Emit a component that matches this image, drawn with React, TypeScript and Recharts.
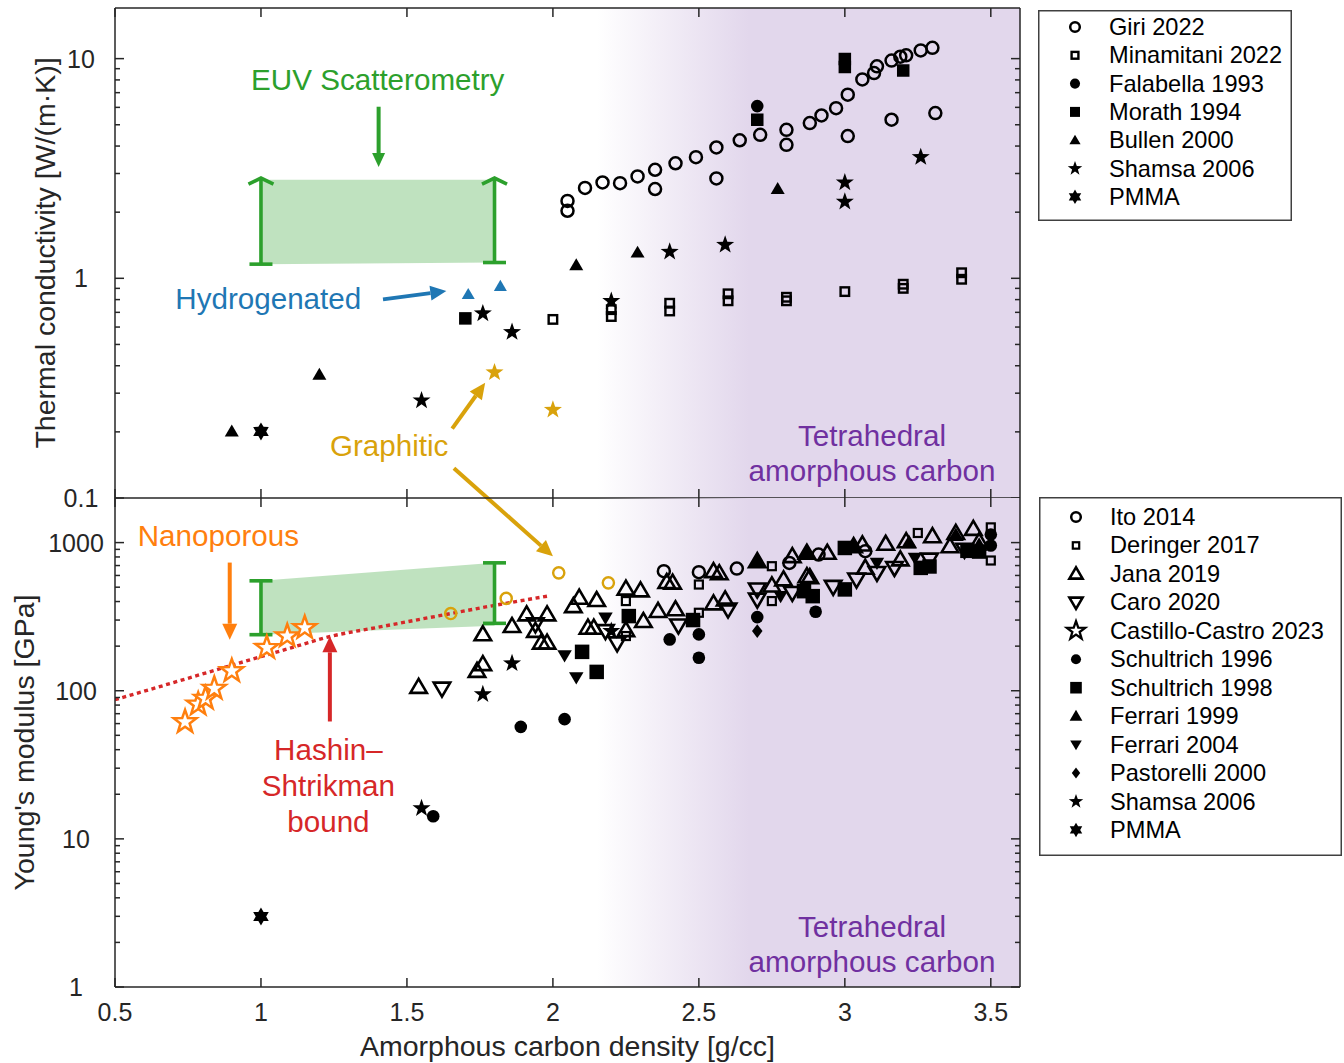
import React from 'react'
import {
  ComposedChart, Scatter, Line, Area, XAxis, YAxis,
  ReferenceArea, ReferenceLine, ReferenceDot, Legend,
} from 'recharts'

// ---------- thermal conductivity panel [W/(m·K)] vs density [g/cc] ----------
const giri2022 = [
  { x: 2.05, y: 2.25 }, { x: 2.05, y: 2.03 }, { x: 2.11, y: 2.58 }, { x: 2.17, y: 2.73 },
  { x: 2.23, y: 2.71 }, { x: 2.29, y: 2.91 }, { x: 2.35, y: 3.12 }, { x: 2.35, y: 2.55 },
  { x: 2.42, y: 3.34 }, { x: 2.49, y: 3.56 }, { x: 2.56, y: 3.94 }, { x: 2.56, y: 2.85 },
  { x: 2.64, y: 4.25 }, { x: 2.71, y: 4.5 }, { x: 2.8, y: 4.74 }, { x: 2.8, y: 4.05 },
  { x: 2.88, y: 5.09 }, { x: 2.92, y: 5.51 }, { x: 2.97, y: 5.95 }, { x: 3.01, y: 6.85 },
  { x: 3.01, y: 4.44 }, { x: 3.06, y: 8.04 }, { x: 3.1, y: 8.6 }, { x: 3.11, y: 9.22 },
  { x: 3.16, y: 9.8 }, { x: 3.19, y: 10.2 }, { x: 3.21, y: 10.35 }, { x: 3.26, y: 10.9 },
  { x: 3.3, y: 11.2 }, { x: 3.16, y: 5.27 }, { x: 3.31, y: 5.65 },
]
const minamitani2022 = [
  { x: 2.0, y: 0.65 }, { x: 2.2, y: 0.67 }, { x: 2.2, y: 0.72 }, { x: 2.4, y: 0.71 },
  { x: 2.4, y: 0.77 }, { x: 2.6, y: 0.79 }, { x: 2.6, y: 0.85 }, { x: 2.8, y: 0.79 },
  { x: 2.8, y: 0.82 }, { x: 3.0, y: 0.87 }, { x: 3.2, y: 0.9 }, { x: 3.2, y: 0.94 },
  { x: 3.4, y: 0.99 }, { x: 3.4, y: 1.06 },
]
const falabella1993 = [{ x: 2.7, y: 6.08 }]
const morath1994 = [
  { x: 1.7, y: 0.657 }, { x: 2.7, y: 5.27 }, { x: 3.0, y: 9.16 }, { x: 3.0, y: 9.96 }, { x: 3.2, y: 8.83 },
]
const bullen2000 = [
  { x: 0.9, y: 0.201 }, { x: 1.2, y: 0.364 }, { x: 2.08, y: 1.147 }, { x: 2.29, y: 1.31 }, { x: 2.77, y: 2.55 },
]
const hydrogenated = [{ x: 1.71, y: 0.845 }, { x: 1.82, y: 0.92 }]
const shamsaThermal = [
  { x: 1.55, y: 0.278 }, { x: 1.76, y: 0.692 }, { x: 1.86, y: 0.569 }, { x: 2.2, y: 0.788 },
  { x: 2.4, y: 1.32 }, { x: 2.59, y: 1.42 }, { x: 3.0, y: 2.73 }, { x: 3.0, y: 2.23 }, { x: 3.26, y: 3.56 },
]
const graphiticThermal = [{ x: 1.8, y: 0.373 }, { x: 2.0, y: 0.252 }]
const pmmaThermal = [{ x: 1.0, y: 0.201 }]
const euvThermal = [
  { x: 1.0, band: [1.16, 2.81] },
  { x: 1.8, band: [1.18, 2.81] },
]

// ---------- Young's modulus panel [GPa] ----------
const ito2014 = [
  { x: 2.38, y: 641 }, { x: 2.5, y: 631 }, { x: 2.63, y: 668 }, { x: 2.81, y: 729 },
  { x: 2.91, y: 830 }, { x: 3.07, y: 875 },
]
const graphiticModulus = [{ x: 1.65, y: 332 }, { x: 1.84, y: 420 }, { x: 2.02, y: 625 }, { x: 2.19, y: 535 }]
const deringer2017 = [
  { x: 2.25, y: 403 }, { x: 2.25, y: 234 }, { x: 2.5, y: 521 }, { x: 2.5, y: 336 }, { x: 2.75, y: 693 },
  { x: 2.75, y: 403 }, { x: 3.0, y: 944 }, { x: 3.25, y: 1161 }, { x: 3.5, y: 1267 }, { x: 3.5, y: 757 },
]
const jana2019 = [
  { x: 1.54, y: 106 }, { x: 1.74, y: 136 }, { x: 1.76, y: 151 }, { x: 1.76, y: 240 }, { x: 1.86, y: 273 },
  { x: 1.91, y: 327 }, { x: 1.98, y: 327 }, { x: 1.94, y: 253 }, { x: 1.96, y: 211 }, { x: 1.98, y: 211 },
  { x: 2.07, y: 372 }, { x: 2.09, y: 424 }, { x: 2.15, y: 409 }, { x: 2.12, y: 266 }, { x: 2.14, y: 266 },
  { x: 2.25, y: 256 }, { x: 2.25, y: 488 }, { x: 2.3, y: 475 }, { x: 2.31, y: 295 }, { x: 2.36, y: 345 },
  { x: 2.42, y: 354 }, { x: 2.39, y: 541 }, { x: 2.41, y: 536 }, { x: 2.55, y: 641 }, { x: 2.57, y: 620 },
  { x: 2.55, y: 388 }, { x: 2.59, y: 413 }, { x: 2.7, y: 748 }, { x: 2.75, y: 513 }, { x: 2.79, y: 564 },
  { x: 2.82, y: 809 }, { x: 2.87, y: 852 }, { x: 2.87, y: 593 }, { x: 2.88, y: 584 }, { x: 2.94, y: 852 },
  { x: 3.03, y: 944 }, { x: 3.06, y: 970 }, { x: 3.07, y: 675 }, { x: 3.14, y: 980 }, { x: 3.21, y: 1020 },
  { x: 3.19, y: 769 }, { x: 3.3, y: 1103 }, { x: 3.38, y: 1161 }, { x: 3.44, y: 1236 }, { x: 3.36, y: 944 },
  { x: 3.46, y: 1020 },
]
const caro2020 = [
  { x: 1.62, y: 103.5 }, { x: 1.94, y: 281 }, { x: 2.18, y: 253 }, { x: 2.22, y: 209 }, { x: 2.43, y: 276 },
  { x: 2.6, y: 354 }, { x: 2.7, y: 413 }, { x: 2.7, y: 483 }, { x: 2.82, y: 458 }, { x: 2.96, y: 503 },
  { x: 3.04, y: 564 }, { x: 3.11, y: 625 }, { x: 3.17, y: 675 }, { x: 3.29, y: 769 }, { x: 3.41, y: 897 },
]
const castilloCastro2023 = [
  { x: 0.74, y: 61.6 }, { x: 0.785, y: 81 }, { x: 0.81, y: 88.6 }, { x: 0.84, y: 103.5 },
  { x: 0.9, y: 136 }, { x: 1.02, y: 195 }, { x: 1.09, y: 234 }, { x: 1.15, y: 266 },
]
const schultrich1996 = [
  { x: 1.59, y: 14.2 }, { x: 1.89, y: 57 }, { x: 2.04, y: 64.3 }, { x: 2.4, y: 222 }, { x: 2.5, y: 240 },
  { x: 2.5, y: 167 }, { x: 2.7, y: 314 }, { x: 2.9, y: 341 }, { x: 3.5, y: 1132 }, { x: 3.5, y: 955 },
]
const schultrich1998 = [
  { x: 2.1, y: 183 }, { x: 2.15, y: 134 }, { x: 2.26, y: 319 }, { x: 2.48, y: 300 }, { x: 2.86, y: 470 },
  { x: 2.89, y: 435 }, { x: 3.0, y: 483 }, { x: 3.0, y: 920 }, { x: 3.26, y: 675 }, { x: 3.29, y: 690 },
  { x: 3.42, y: 880 }, { x: 3.46, y: 870 },
]
const ferrari1999 = [
  { x: 2.7, y: 748 }, { x: 2.87, y: 850 }, { x: 3.03, y: 940 }, { x: 3.22, y: 1000 }, { x: 3.38, y: 1120 }, { x: 3.46, y: 960 },
]
const ferrari2004 = [
  { x: 2.04, y: 173 }, { x: 2.08, y: 123 }, { x: 2.18, y: 311 }, { x: 2.78, y: 435 }, { x: 3.11, y: 729 }, { x: 3.24, y: 789 },
]
const pastorelli2000 = [{ x: 2.7, y: 253 }]
const shamsaModulus = [{ x: 1.55, y: 16.1 }, { x: 1.76, y: 94.7 }, { x: 1.86, y: 153 }, { x: 2.2, y: 253 }]
const pmmaModulus = [{ x: 1.0, y: 2.99 }]
const hashinShtrikman = [
  { x: 0.5, y: 87 }, { x: 0.7, y: 113.5 }, { x: 0.9, y: 148.6 }, { x: 1.1, y: 194 }, { x: 1.24, y: 233 },
  { x: 1.4, y: 268 }, { x: 1.6, y: 318 }, { x: 1.8, y: 377 }, { x: 1.99, y: 438 },
]
const euvModulus = [
  { x: 1.0, band: [239, 552] },
  { x: 1.8, band: [275, 730] },
]

// ---------- ticks ----------
const xTicks = [0.5, 1, 1.5, 2, 2.5, 3, 3.5]
const thermalTicks = [0.1, 0.2, 0.3, 0.4, 0.5, 0.6, 0.7, 0.8, 0.9, 1, 2, 3, 4, 5, 6, 7, 8, 9, 10]
const modulusTicks = [
  1, 2, 3, 4, 5, 6, 7, 8, 9, 10, 20, 30, 40, 50, 60, 70, 80, 90,
  100, 200, 300, 400, 500, 600, 700, 800, 900, 1000,
]

// ---------- layout & style ----------
const W = 1344
const H = 1063
const L = 115
const R = 1020
const TOP = 8
const MID = 498
const BOT = 987
const FONT = '"Liberation Sans", Arial, Helvetica, sans-serif'
const INK = '#262626'
const GREEN = '#2ca02c'
const BLUE = '#1f77b4'
const GOLD = '#d9a20b'
const ORANGE = '#ff7f0e'
const RED = '#d62728'
const PURPLE = '#7030a0'
const LILAC = '#e2d7ec'

type Kind = 'circle' | 'square' | 'triUp' | 'triDown' | 'diamond' | 'star' | 'hexa'
interface MarkStyle { kind: Kind; size: number; color: string; filled: boolean; sw?: number; bg?: string }

function Mark({ cx, cy, s, scale = 1 }: { cx: number; cy: number; s: MarkStyle; scale?: number }) {
  const size = s.size * scale
  const common = {
    fill: s.filled ? s.color : s.bg ?? 'none',
    stroke: s.filled ? 'none' : s.color,
    strokeWidth: s.filled ? 0 : s.sw ?? 2,
    strokeLinejoin: 'miter' as const,
  }
  if (s.kind === 'circle') return <circle cx={cx} cy={cy} r={size} {...common} />
  if (s.kind === 'square') return <rect x={cx - size / 2} y={cy - size / 2} width={size} height={size} {...common} />
  if (s.kind === 'triUp' || s.kind === 'triDown') {
    const h = size * 0.85
    const d = s.kind === 'triUp' ? 1 : -1
    const pts = `${cx},${cy - d * h * 0.58} ${cx - size / 2},${cy + d * h * 0.42} ${cx + size / 2},${cy + d * h * 0.42}`
    return <polygon points={pts} {...common} />
  }
  if (s.kind === 'diamond') {
    const pts = `${cx},${cy - size * 0.55} ${cx + size * 0.42},${cy} ${cx},${cy + size * 0.55} ${cx - size * 0.42},${cy}`
    return <polygon points={pts} {...common} />
  }
  const n = s.kind === 'star' ? 5 : 6
  const inner = s.kind === 'star' ? 0.4 : 0.58
  const pts: string[] = []
  for (let i = 0; i < n * 2; i++) {
    const rr = i % 2 === 0 ? size : size * inner
    const a = -Math.PI / 2 + (i * Math.PI) / n
    pts.push(`${cx + rr * Math.cos(a)},${cy + rr * Math.sin(a)}`)
  }
  return <polygon points={pts.join(' ')} {...common} />
}

const M: Record<string, MarkStyle> = {
  'Giri 2022': { kind: 'circle', size: 6, color: '#000', filled: false, sw: 2.5 },
  'Minamitani 2022': { kind: 'square', size: 8.5, color: '#000', filled: false, sw: 2.4 },
  'Falabella 1993': { kind: 'circle', size: 6.3, color: '#000', filled: true },
  'Morath 1994': { kind: 'square', size: 12.5, color: '#000', filled: true },
  'Bullen 2000': { kind: 'triUp', size: 14, color: '#000', filled: true },
  'Shamsa 2006': { kind: 'star', size: 9.5, color: '#000', filled: true },
  PMMA: { kind: 'hexa', size: 9, color: '#000', filled: true },
  'Ito 2014': { kind: 'circle', size: 6, color: '#000', filled: false, sw: 2.5 },
  'Deringer 2017': { kind: 'square', size: 8, color: '#000', filled: false, sw: 2.2 },
  'Jana 2019': { kind: 'triUp', size: 16.5, color: '#000', filled: false, sw: 2.6 },
  'Caro 2020': { kind: 'triDown', size: 16.5, color: '#000', filled: false, sw: 2.6 },
  'Castillo-Castro 2023': { kind: 'star', size: 12, color: '#000', filled: false, sw: 2.3, bg: '#fff' },
  'Schultrich 1996': { kind: 'circle', size: 6.3, color: '#000', filled: true },
  'Schultrich 1998': { kind: 'square', size: 14.5, color: '#000', filled: true },
  'Ferrari 1999': { kind: 'triUp', size: 16, color: '#000', filled: true },
  'Ferrari 2004': { kind: 'triDown', size: 14.5, color: '#000', filled: true },
  'Pastorelli 2000': { kind: 'diamond', size: 12.5, color: '#000', filled: true },
}
const blueTri: MarkStyle = { kind: 'triUp', size: 13, color: BLUE, filled: true }
const goldStar: MarkStyle = { kind: 'star', size: 9.5, color: GOLD, filled: true }
const goldCircle: MarkStyle = { kind: 'circle', size: 5.6, color: GOLD, filled: false, sw: 2.4 }
const orangeStar: MarkStyle = { kind: 'star', size: 12, color: ORANGE, filled: false, sw: 2.5, bg: '#fff' }

const TOP_ORDER = ['Giri 2022', 'Minamitani 2022', 'Falabella 1993', 'Morath 1994', 'Bullen 2000', 'Shamsa 2006', 'PMMA']
const BOT_ORDER = [
  'Ito 2014', 'Deringer 2017', 'Jana 2019', 'Caro 2020', 'Castillo-Castro 2023', 'Schultrich 1996',
  'Schultrich 1998', 'Ferrari 1999', 'Ferrari 2004', 'Pastorelli 2000', 'Shamsa 2006', 'PMMA',
]

const shapeOf = (s: MarkStyle) => (p: any) => <Mark cx={p.cx} cy={p.cy} s={s} />

const isMajor = (v: number) => Math.abs(Math.log10(v) - Math.round(Math.log10(v))) < 1e-6

const yTick = (labelX: number) => (p: any) => {
  const { y, payload } = p
  const major = isMajor(payload.value)
  const len = major ? 9 : 5
  return (
    <g>
      <line x1={L} x2={L + len} y1={y} y2={y} stroke={INK} strokeWidth={1.5} />
      <line x1={R} x2={R - len} y1={y} y2={y} stroke={INK} strokeWidth={1.5} />
      {major && (
        <text x={labelX} y={y} textAnchor="middle" dominantBaseline="central" fontSize={25} fontFamily={FONT} fill={INK}>
          {String(payload.value)}
        </text>
      )}
    </g>
  )
}

const xTick = (top: number, bottom: number, labels: boolean) => (p: any) => {
  const { x, payload } = p
  return (
    <g>
      <line x1={x} x2={x} y1={bottom} y2={bottom - 9} stroke={INK} strokeWidth={1.5} />
      <line x1={x} x2={x} y1={top} y2={top + 9} stroke={INK} strokeWidth={1.5} />
      {labels && (
        <text x={x} y={1012} textAnchor="middle" dominantBaseline="central" fontSize={25} fontFamily={FONT} fill={INK}>
          {String(payload.value)}
        </text>
      )}
    </g>
  )
}

const yTitle = (text: string, cx: number, cy: number) => () => (
  <text x={cx} y={cy} transform={`rotate(-90 ${cx} ${cy})`} textAnchor="middle" dominantBaseline="central"
    fontSize={28.5} fontFamily={FONT} fill={INK}>
    {text}
  </text>
)

// annotation text anchored in data coordinates
const note = (x: number, y: number, text: string, color: string) => (
  <ReferenceDot x={x} y={y} r={0} ifOverflow="visible"
    shape={(p: any) => (
      <text x={p.cx} y={p.cy} textAnchor="middle" dominantBaseline="central" fontSize={29.6} fontFamily={FONT} fill={color}>
        {text}
      </text>
    )}
  />
)

const arrow = (from: [number, number], to: [number, number], color: string, headL = 16, headW = 15) => (
  <ReferenceLine ifOverflow="visible"
    segment={[{ x: from[0], y: from[1] }, { x: to[0], y: to[1] }]}
    shape={(p: any) => {
      const { x1, y1, x2, y2 } = p
      const len = Math.hypot(x2 - x1, y2 - y1) || 1
      const ux = (x2 - x1) / len
      const uy = (y2 - y1) / len
      const bx = x2 - ux * headL
      const by = y2 - uy * headL
      const nx = -uy * headW / 2
      const ny = ux * headW / 2
      return (
        <g>
          <line x1={x1} y1={y1} x2={bx} y2={by} stroke={color} strokeWidth={4} />
          <polygon points={`${x2},${y2} ${bx + nx},${by + ny} ${bx - nx},${by - ny}`} fill={color} />
        </g>
      )
    }}
  />
)

const bar = (x: number, lo: number, hi: number, arrowTop: boolean) => (
  <ReferenceLine ifOverflow="visible"
    segment={[{ x, y: lo }, { x, y: hi }]}
    shape={(p: any) => {
      const top = Math.min(p.y1, p.y2)
      const bot = Math.max(p.y1, p.y2)
      const cx = p.x1
      return (
        <g stroke={GREEN} strokeWidth={3.6} fill="none">
          <line x1={cx} x2={cx} y1={top} y2={bot} />
          <line x1={cx - 11.5} x2={cx + 11.5} y1={bot} y2={bot} />
          {arrowTop
            ? <polyline points={`${cx - 12.5},${top + 6} ${cx},${top} ${cx + 12.5},${top + 6}`} />
            : <line x1={cx - 11.5} x2={cx + 11.5} y1={top} y2={top} />}
        </g>
      )
    }}
  />
)

const legendContent = (order: string[], w: number, h: number, first: number, gap: number) => (props: any) => {
  const names: string[] = (props.payload ?? []).map((e: any) => e.value)
  const rows = order.filter((n) => names.includes(n))
  return (
    <svg width={w} height={h} style={{ display: 'block' }}>
      <rect x={0.75} y={0.75} width={w - 1.5} height={h - 1.5} fill="#fff" stroke="#404040" strokeWidth={1.5} />
      {rows.map((n, i) => (
        <g key={n}>
          <Mark cx={37} cy={first + i * gap} s={M[n]} scale={0.8} />
          <text x={71} y={first + i * gap} dominantBaseline="central" fontSize={23.6} fontFamily={FONT} fill="#000">{n}</text>
        </g>
      ))}
    </svg>
  )
}

const gradient = (id: string) => (
  <defs>
    <linearGradient id={id} x1="0" y1="0" x2="1" y2="0">
      <stop offset="0" stopColor={LILAC} stopOpacity={0} />
      <stop offset="0.36" stopColor={LILAC} stopOpacity={1} />
      <stop offset="1" stopColor={LILAC} stopOpacity={1} />
    </linearGradient>
  </defs>
)

function ThermalPanel() {
  return (
    <ComposedChart width={W} height={H} margin={{ top: TOP, right: W - R, bottom: H - MID - 20, left: 0 }}>
      {gradient('taTop')}
      <XAxis type="number" dataKey="x" domain={[0.5, 3.6]} allowDataOverflow ticks={xTicks} interval={0}
        height={20} tickLine={false} axisLine={{ stroke: INK, strokeWidth: 1.5 }} tick={xTick(TOP, MID, false)} />
      <YAxis type="number" dataKey="y" scale="log" domain={[0.1, 17]} allowDataOverflow ticks={thermalTicks} interval={0}
        width={L} tickLine={false} axisLine={{ stroke: INK, strokeWidth: 1.5 }} tick={yTick(81)}
        label={yTitle('Thermal conductivity [W/(m·K)]', 45, (TOP + MID) / 2)} />
      <ReferenceArea x1={2.15} x2={3.6} fill="url(#taTop)" fillOpacity={1} stroke="none" ifOverflow="hidden" />
      <ReferenceLine y={17} stroke={INK} strokeWidth={1.5} />
      <ReferenceLine x={3.6} stroke={INK} strokeWidth={1.5} />
      <Area data={euvThermal} dataKey="band" type="linear" stroke="none" fill={GREEN} fillOpacity={0.3}
        isAnimationActive={false} legendType="none" dot={false} activeDot={false} />
      {bar(1.0, 1.16, 2.86, true)}
      {bar(1.8, 1.18, 2.86, true)}
      <Scatter name="Giri 2022" data={giri2022} shape={shapeOf(M['Giri 2022'])} isAnimationActive={false} />
      <Scatter name="Minamitani 2022" data={minamitani2022} shape={shapeOf(M['Minamitani 2022'])} isAnimationActive={false} />
      <Scatter name="Falabella 1993" data={falabella1993} shape={shapeOf(M['Falabella 1993'])} isAnimationActive={false} />
      <Scatter name="Morath 1994" data={morath1994} shape={shapeOf(M['Morath 1994'])} isAnimationActive={false} />
      <Scatter name="Bullen 2000" data={bullen2000} shape={shapeOf(M['Bullen 2000'])} isAnimationActive={false} />
      <Scatter name="Hydrogenated" data={hydrogenated} shape={shapeOf(blueTri)} legendType="none" isAnimationActive={false} />
      <Scatter name="Shamsa 2006" data={shamsaThermal} shape={shapeOf(M['Shamsa 2006'])} isAnimationActive={false} />
      <Scatter name="Graphitic" data={graphiticThermal} shape={shapeOf(goldStar)} legendType="none" isAnimationActive={false} />
      <Scatter name="PMMA" data={pmmaThermal} shape={shapeOf(M.PMMA)} isAnimationActive={false} />
      {note(1.4, 8.06, 'EUV Scatterometry', GREEN)}
      {arrow([1.403, 6.04], [1.403, 3.21], GREEN, 14, 13)}
      {note(1.025, 0.813, 'Hydrogenated', BLUE)}
      {arrow([1.418, 0.802], [1.635, 0.875], BLUE)}
      {note(1.439, 0.1727, 'Graphitic', GOLD)}
      {arrow([1.655, 0.207], [1.768, 0.3345], GOLD)}
      {arrow([1.661, 0.1367], [2.0, 0.0543], GOLD)}
      {note(3.093, 0.192, 'Tetrahedral', PURPLE)}
      {note(3.093, 0.133, 'amorphous carbon', PURPLE)}
      <Legend verticalAlign="middle" align="center" layout="horizontal"
        wrapperStyle={{ left: 1038, top: 10, width: 254, height: 211, margin: 0, padding: 0, lineHeight: 0 }}
        content={legendContent(TOP_ORDER, 254, 211, 17, 28.3)} />
    </ComposedChart>
  )
}

function ModulusPanel() {
  return (
    <ComposedChart width={W} height={H} margin={{ top: MID, right: W - R, bottom: 0, left: 0 }}>
      {gradient('taBot')}
      <XAxis type="number" dataKey="x" domain={[0.5, 3.6]} allowDataOverflow ticks={xTicks} interval={0}
        height={H - BOT} tickLine={false} axisLine={{ stroke: INK, strokeWidth: 1.5 }} tick={xTick(MID, BOT, true)}
        label={() => (
          <text x={(L + R) / 2} y={1046} textAnchor="middle" dominantBaseline="central" fontSize={28.5} fontFamily={FONT} fill={INK}>
            Amorphous carbon density [g/cc]
          </text>
        )} />
      <YAxis type="number" dataKey="y" scale="log" domain={[1, 2000]} allowDataOverflow ticks={modulusTicks} interval={0}
        width={L} tickLine={false} axisLine={{ stroke: INK, strokeWidth: 1.5 }} tick={yTick(76)}
        label={yTitle("Young's modulus [GPa]", 24, (MID + BOT) / 2)} />
      <ReferenceArea x1={2.15} x2={3.6} fill="url(#taBot)" fillOpacity={1} stroke="none" ifOverflow="hidden" />
      <ReferenceLine x={3.6} stroke={INK} strokeWidth={1.5} />
      <Area data={euvModulus} dataKey="band" type="linear" stroke="none" fill={GREEN} fillOpacity={0.3}
        isAnimationActive={false} legendType="none" dot={false} activeDot={false} />
      <Line data={hashinShtrikman} dataKey="y" type="monotone" stroke={RED} strokeWidth={3.4} strokeDasharray="4 3.6"
        dot={false} activeDot={false} isAnimationActive={false} legendType="none" />
      {bar(1.0, 239, 552, false)}
      {bar(1.8, 285, 730, false)}
      <Scatter name="Ito 2014" data={ito2014} shape={shapeOf(M['Ito 2014'])} isAnimationActive={false} />
      <Scatter name="Graphitic" data={graphiticModulus} shape={shapeOf(goldCircle)} legendType="none" isAnimationActive={false} />
      <Scatter name="Deringer 2017" data={deringer2017} shape={shapeOf(M['Deringer 2017'])} isAnimationActive={false} />
      <Scatter name="Jana 2019" data={jana2019} shape={shapeOf(M['Jana 2019'])} isAnimationActive={false} />
      <Scatter name="Caro 2020" data={caro2020} shape={shapeOf(M['Caro 2020'])} isAnimationActive={false} />
      <Scatter name="Castillo-Castro 2023" data={castilloCastro2023} shape={shapeOf(orangeStar)} isAnimationActive={false} />
      <Scatter name="Schultrich 1996" data={schultrich1996} shape={shapeOf(M['Schultrich 1996'])} isAnimationActive={false} />
      <Scatter name="Schultrich 1998" data={schultrich1998} shape={shapeOf(M['Schultrich 1998'])} isAnimationActive={false} />
      <Scatter name="Ferrari 1999" data={ferrari1999} shape={shapeOf(M['Ferrari 1999'])} isAnimationActive={false} />
      <Scatter name="Ferrari 2004" data={ferrari2004} shape={shapeOf(M['Ferrari 2004'])} isAnimationActive={false} />
      <Scatter name="Pastorelli 2000" data={pastorelli2000} shape={shapeOf(M['Pastorelli 2000'])} isAnimationActive={false} />
      <Scatter name="Shamsa 2006" data={shamsaModulus} shape={shapeOf(M['Shamsa 2006'])} isAnimationActive={false} />
      <Scatter name="PMMA" data={pmmaModulus} shape={shapeOf(M.PMMA)} isAnimationActive={false} />
      {note(0.854, 1115, 'Nanoporous', ORANGE)}
      {arrow([0.893, 733], [0.893, 221], ORANGE)}
      {note(1.231, 39.9, 'Hashin–', RED)}
      {note(1.231, 22.9, 'Shtrikman', RED)}
      {note(1.231, 13.2, 'bound', RED)}
      {arrow([1.236, 62], [1.236, 233], RED)}
      {note(3.093, 2.58, 'Tetrahedral', PURPLE)}
      {note(3.093, 1.476, 'amorphous carbon', PURPLE)}
      <Legend verticalAlign="middle" align="center" layout="horizontal"
        wrapperStyle={{ left: 1039, top: 497, width: 303, height: 359, margin: 0, padding: 0, lineHeight: 0 }}
        content={legendContent(BOT_ORDER, 303, 359, 20, 28.45)} />
    </ComposedChart>
  )
}

export default function App() {
  return (
    <div style={{ position: 'absolute', left: 0, top: 0, width: W, height: H, background: '#fff', fontFamily: FONT }}>
      <div style={{ position: 'absolute', left: 0, top: 0 }}>
        <ThermalPanel />
      </div>
      <div style={{ position: 'absolute', left: 0, top: 0 }}>
        <ModulusPanel />
      </div>
    </div>
  )
}
